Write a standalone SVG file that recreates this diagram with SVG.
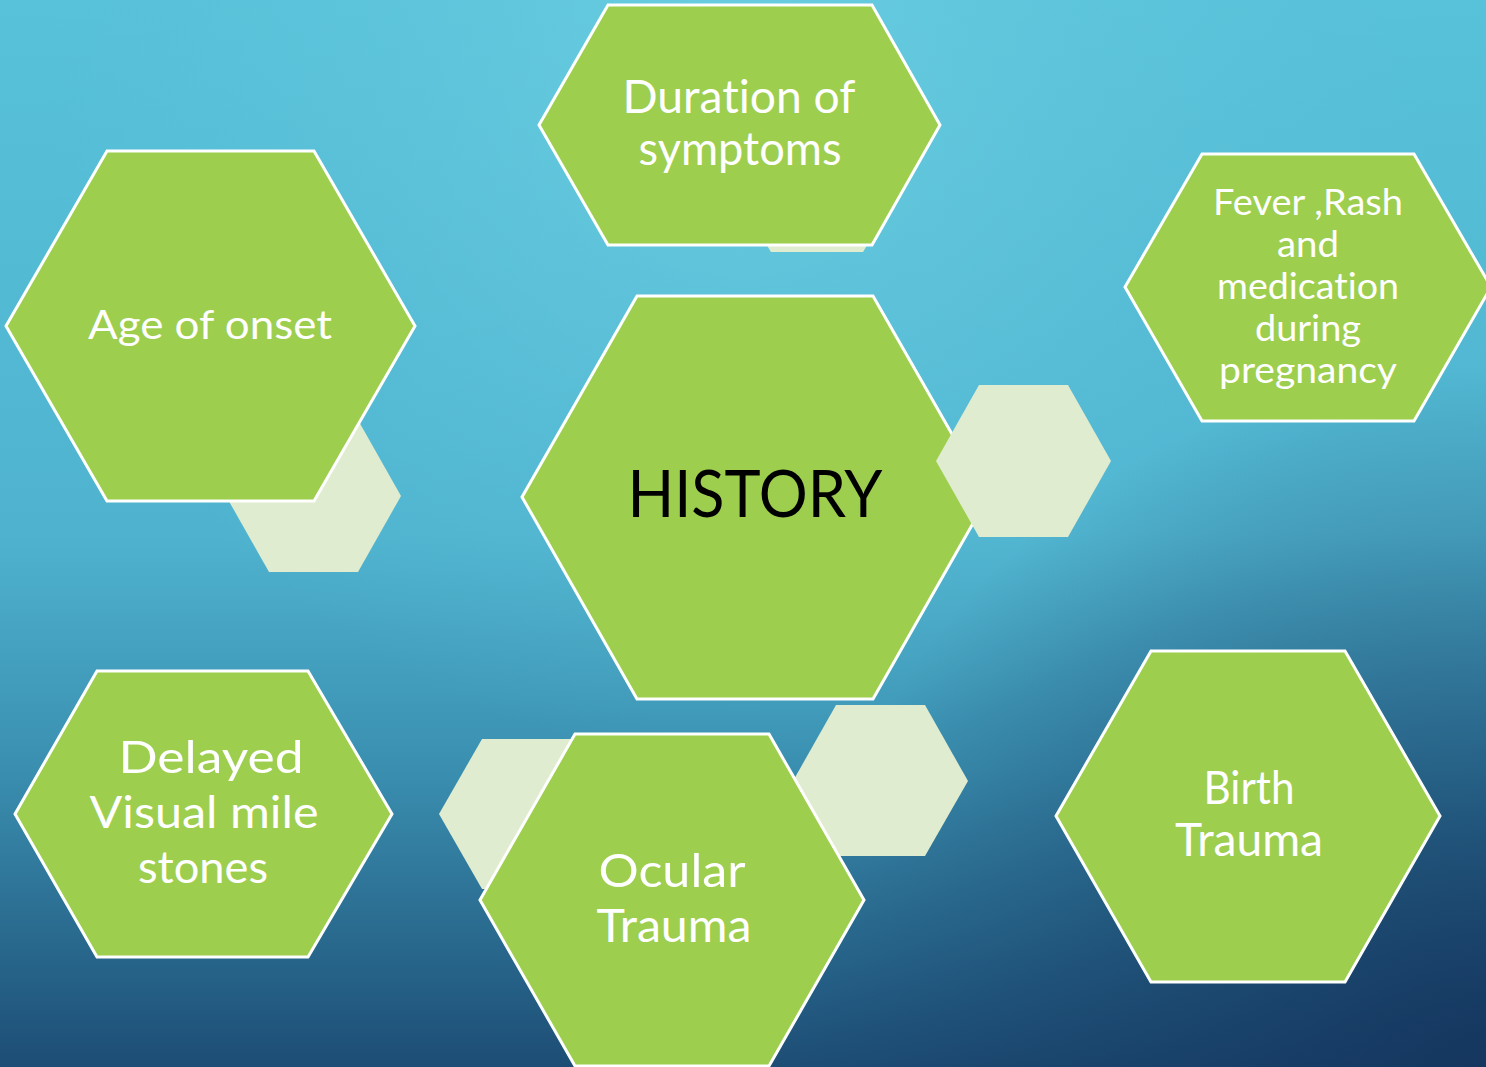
<svg xmlns="http://www.w3.org/2000/svg" width="1486" height="1067" viewBox="0 0 1486 1067">
<defs>
<linearGradient id="bgLin" x1="0" y1="0" x2="0" y2="1">
<stop offset="0" stop-color="#58c2da"/>
<stop offset="0.5" stop-color="#4fb3cf"/>
<stop offset="0.72" stop-color="#3a8fb0"/>
<stop offset="1" stop-color="#1d4d75"/>
</linearGradient>
<radialGradient id="bgHi" cx="740" cy="60" r="700" gradientUnits="userSpaceOnUse">
<stop offset="0" stop-color="#6dd0e2" stop-opacity="0.85"/>
<stop offset="0.6" stop-color="#62c6dc" stop-opacity="0.35"/>
<stop offset="1" stop-color="#5cc2da" stop-opacity="0"/>
</radialGradient>
<radialGradient id="bgDark" cx="1486" cy="1067" r="700" gradientUnits="userSpaceOnUse">
<stop offset="0" stop-color="#13325b" stop-opacity="0.85"/>
<stop offset="1" stop-color="#13325b" stop-opacity="0"/>
</radialGradient>
<style>
.hex{fill:#9dce4e;stroke:#ffffff;stroke-width:3;stroke-linejoin:miter}
.pale{fill:#dfecd0}
.t{font-family:Lato,"Noto Sans","Liberation Sans",sans-serif;fill:#ffffff;text-anchor:middle;font-variant-ligatures:none}
.h{font-family:Lato,"Noto Sans","Liberation Sans",sans-serif;fill:#000000;text-anchor:middle;font-variant-ligatures:none}
</style>
</defs>
<rect x="0" y="0" width="1486" height="1067" fill="url(#bgLin)"/>
<rect x="0" y="0" width="1486" height="1067" fill="url(#bgHi)"/>
<rect x="0" y="0" width="1486" height="1067" fill="url(#bgDark)"/>
<g id="connectors"/>
<g id="deco-back">
<polygon class="pale" points="725,176 771,100 863,100 909,176 863,252 771,252"/>
<polygon class="pale" points="226,496 269,420 358,420 401,496 358,572 269,572"/>
</g>
<g id="node-duration">
<polygon class="hex" points="539,125 608,5 872,5 940,125 872,245 608,245"/>
<text class="t" font-size="46" x="739" y="113" textLength="233" lengthAdjust="spacingAndGlyphs">Duration of</text>
<text class="t" font-size="46" x="740" y="165" textLength="203" lengthAdjust="spacingAndGlyphs">symptoms</text>
</g>
<g id="node-age">
<polygon class="hex" points="6,326 107,151 314,151 415,326 314,501 107,501"/>
<text class="t" font-size="40" x="210" y="339" textLength="244" lengthAdjust="spacingAndGlyphs">Age of onset</text>
</g>
<g id="node-fever">
<polygon class="hex" points="1125,287 1202,154 1414,154 1491,287 1414,421 1202,421"/>
<text class="t" font-size="36" x="1308" y="215" textLength="190" lengthAdjust="spacingAndGlyphs">Fever ,Rash</text>
<text class="t" font-size="36" x="1308" y="257" textLength="62" lengthAdjust="spacingAndGlyphs">and</text>
<text class="t" font-size="36" x="1308" y="299" textLength="182" lengthAdjust="spacingAndGlyphs">medication</text>
<text class="t" font-size="36" x="1308" y="341" textLength="106" lengthAdjust="spacingAndGlyphs">during</text>
<text class="t" font-size="36" x="1308" y="383" textLength="178" lengthAdjust="spacingAndGlyphs">pregnancy</text>
</g>
<g id="node-history">
<polygon class="hex" points="522,497 637,296 873,296 988,497 873,699 637,699"/>
<text class="h" font-size="65" x="755" y="517" textLength="255" lengthAdjust="spacingAndGlyphs">HISTORY</text>
</g>
<g id="deco-history">
<polygon class="pale" points="936,461 979,385 1068,385 1111,461 1068,537 979,537"/>
</g>
<g id="node-delayed">
<polygon class="hex" points="15,814 97,671 308,671 392,814 308,957 97,957"/>
<text class="t" font-size="45" x="211" y="773" textLength="185" lengthAdjust="spacingAndGlyphs">Delayed</text>
<text class="t" font-size="45" x="204" y="828" textLength="229" lengthAdjust="spacingAndGlyphs">Visual mile</text>
<text class="t" font-size="45" x="203" y="883" textLength="130" lengthAdjust="spacingAndGlyphs">stones</text>
</g>
<g id="deco-ocular">
<polygon class="pale" points="439,814 482,739 571,739 614,814 571,889 482,889"/>
<polygon class="pale" points="793,781 836,705 925,705 968,781 925,856 836,856"/>
</g>
<g id="node-ocular">
<polygon class="hex" points="480,900 575,734 769,734 864,900 769,1066 575,1066"/>
<text class="t" font-size="47" x="672" y="887" textLength="147" lengthAdjust="spacingAndGlyphs">Ocular</text>
<text class="t" font-size="47" x="674" y="942" textLength="155" lengthAdjust="spacingAndGlyphs">Trauma</text>
</g>
<g id="node-birth">
<polygon class="hex" points="1056,816 1151,651 1345,651 1440,816 1345,982 1151,982"/>
<text class="t" font-size="46" x="1249" y="804" textLength="91" lengthAdjust="spacingAndGlyphs">Birth</text>
<text class="t" font-size="46" x="1249" y="856" textLength="148" lengthAdjust="spacingAndGlyphs">Trauma</text>
</g>
</svg>
